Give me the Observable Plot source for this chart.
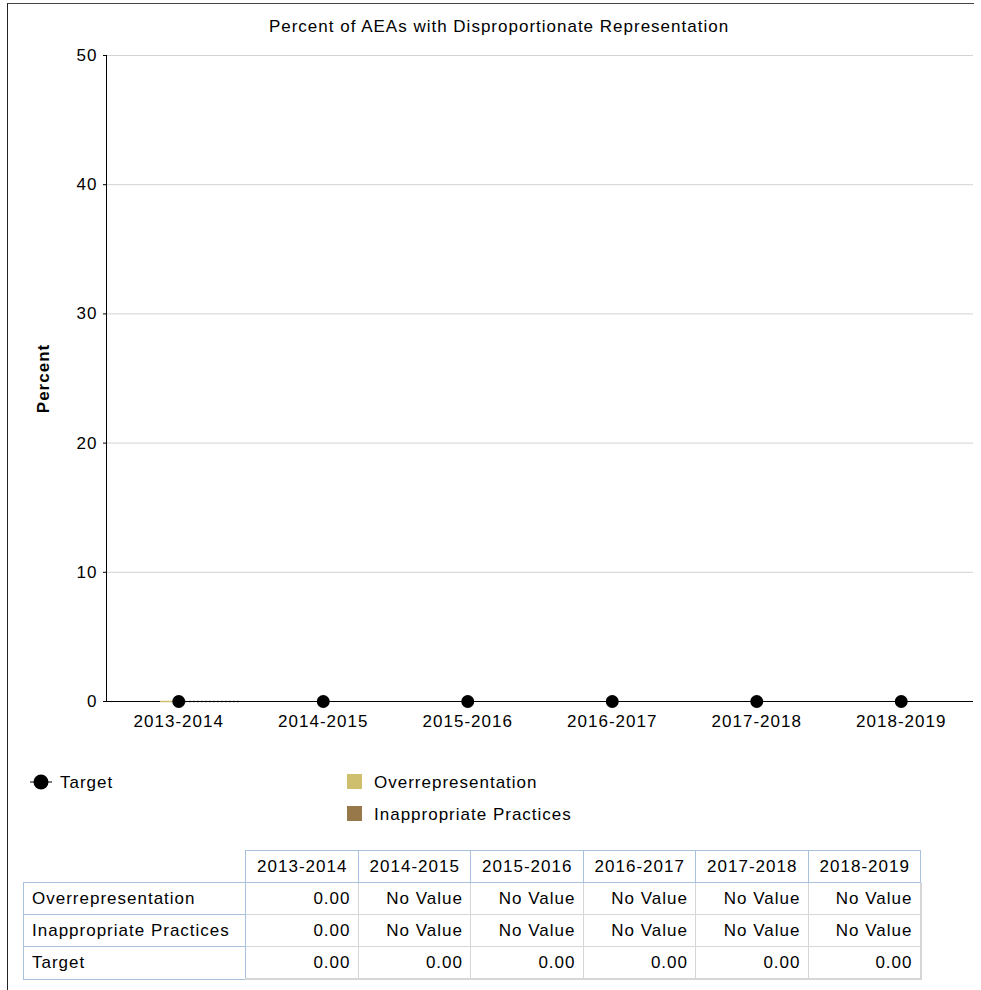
<!DOCTYPE html>
<html>
<head>
<meta charset="utf-8">
<script src="https://cdn.jsdelivr.net/npm/d3@7"></script>
<script src="https://cdn.jsdelivr.net/npm/@observablehq/plot@0.6"></script>
<style>
  html, body { margin: 0; padding: 0; background: #fff; }
  body { width: 981px; height: 990px; position: relative; overflow: hidden;
         font-family: "Liberation Sans", Arial, sans-serif; font-size: 17px; letter-spacing: 1px; color: #000; }
  #frame { position: absolute; left: 7px; top: 3px; width: 966px; height: 1000px;
           border-left: 1px solid #222; border-top: 1px solid #444; }
  #title { position: absolute; left: 0; top: 17px; width: 998px; text-align: center; font-size: 17px; }
  #chart { position: absolute; left: 0; top: 0; }
  #chart svg { overflow: visible; }
  #chart [aria-label="y-axis label"] text { font-weight: bold; }
  .leg { position: absolute; line-height: 20px; }
  .sw { position: absolute; width: 15px; height: 15px; }
  table { position: absolute; left: 23px; top: 850px; border-collapse: collapse; table-layout: fixed; }
  td, th { height: 31px; padding: 0 7px 0 8px; font-weight: normal; font-size: 17px; white-space: nowrap; }
  th { border: 1px solid #a9c1dc; text-align: center; }
  th.blank { border: none; }
  td.rowh { border: 1px solid #a9c1dc; text-align: left; }
  td.val { border: 1px solid #d6d6d6; text-align: right; }
  tr:last-child td.val { border-bottom: 2px solid #d6d6d6; }
  td.val:last-child { border-right: 2px solid #d6d6d6; }
</style>
</head>
<body>
<div id="frame"></div>
<div id="chart"></div>
<div id="title">Percent of AEAs with Disproportionate Representation</div>
<div id="legend"></div>
<table id="tbl"></table>
<script>
const years = ["2013-2014", "2014-2015", "2015-2016", "2016-2017", "2017-2018", "2018-2019"];
const overrepresentation = [0, null, null, null, null, null];
const inappropriatePractices = [0, null, null, null, null, null];
const target = [0, 0, 0, 0, 0, 0];
const yTicks = [0, 10, 20, 30, 40, 50];
const seriesNames = ["Overrepresentation", "Inappropriate Practices", "Target"];
const colors = {"Overrepresentation": "#cdbf6e", "Inappropriate Practices": "#96784a", "Target": "#000000"};

const overData = years.map((y, i) => ({year: y, value: overrepresentation[i]})).filter(d => d.value != null);
const inapData = years.map((y, i) => ({year: y, value: inappropriatePractices[i]})).filter(d => d.value != null);
const targetData = years.map((y, i) => ({year: y, value: target[i]}));

const chart = Plot.plot({
  width: 981,
  height: 740,
  marginLeft: 106,
  marginRight: 8,
  marginTop: 55,
  marginBottom: 39,
  style: {fontFamily: '"Liberation Sans", Arial, sans-serif', fontSize: "17px", letterSpacing: "1px", background: "transparent"},
  x: {type: "band", domain: years, padding: 0, align: 0.5, round: false, label: null},
  y: {domain: [0, 50], label: "Percent"},
  marks: [
    Plot.gridY(yTicks, {stroke: "#d3d3d3", strokeOpacity: 1}),
    Plot.axisY(yTicks, {tickSize: 3, tickPadding: 6, label: "Percent", labelAnchor: "center", labelArrow: "none", labelOffset: 70, stroke: "#000"}),
    Plot.axisX({tickSize: 0, tickPadding: 13, label: null}),
    Plot.frame({anchor: "left", stroke: "#000"}),
    Plot.ruleY([0], {stroke: "#000"}),
    Plot.tickY(overData, {x: "year", y: "value", stroke: colors["Overrepresentation"], strokeWidth: 1.5, insetLeft: 54, insetRight: 65.5}),
    Plot.tickY(inapData, {x: "year", y: "value", stroke: "#5a4a2a", strokeWidth: 1.5, strokeDasharray: "1.5,2.5", insetLeft: 79, insetRight: 10.5}),
    Plot.line(targetData, {x: "year", y: "value", stroke: colors["Target"], strokeWidth: 1}),
    Plot.dot(targetData, {x: "year", y: "value", r: 6.5, fill: colors["Target"], stroke: "none"})
  ]
});
document.getElementById("chart").appendChild(chart);

// Legend
const leg = document.getElementById("legend");
leg.innerHTML = `
  <svg style="position:absolute;left:28px;top:772px" width="26" height="20">
    <line x1="2" y1="10" x2="24" y2="10" stroke="#000" stroke-width="1"/>
    <circle cx="13" cy="10" r="7.5" fill="#000"/>
  </svg>
  <div class="leg" style="left:60px;top:773px">${seriesNames[2]}</div>
  <div class="sw" style="left:347px;top:774px;background:${colors[seriesNames[0]]}"></div>
  <div class="leg" style="left:374px;top:773px">${seriesNames[0]}</div>
  <div class="sw" style="left:347px;top:806px;background:${colors[seriesNames[1]]}"></div>
  <div class="leg" style="left:374px;top:805px">${seriesNames[1]}</div>
`;

// Table
const fmt = v => v == null ? "No Value" : v.toFixed(2);
const rows = [overrepresentation, inappropriatePractices, target];
let html = `<colgroup><col style="width:222px">${years.map(() => '<col style="width:112.5px">').join("")}</colgroup>`;
html += `<tr><th class="blank"></th>${years.map(y => `<th>${y}</th>`).join("")}</tr>`;
rows.forEach((r, i) => {
  html += `<tr><td class="rowh">${seriesNames[i]}</td>${r.map(v => `<td class="val">${fmt(v)}</td>`).join("")}</tr>`;
});
document.getElementById("tbl").innerHTML = html;
</script>
</body>
</html>
